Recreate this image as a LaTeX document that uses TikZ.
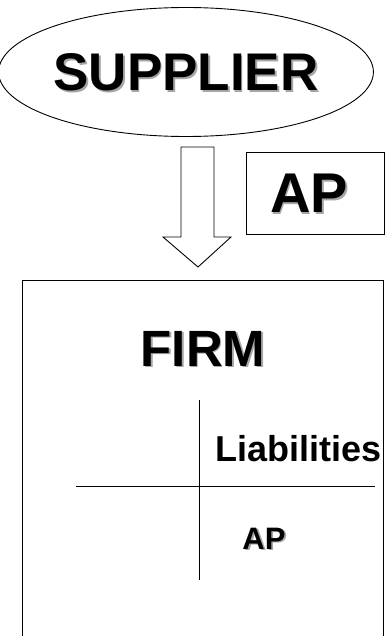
\documentclass[tikz,border=0pt]{standalone}
\usepackage{fontspec}
\setmainfont{Liberation Sans}
\usetikzlibrary{shapes.geometric, positioning}
\newcommand{\shadowed}[1]{\makebox[0pt][l]{\hspace{1.8pt}\smash{\raisebox{-1.8pt}{\textcolor{black!35}{#1}}}}#1}
\tikzset{
  big/.style={font=\fontsize{53}{53}\selectfont\bfseries, inner sep=0pt},
  small/.style={font=\fontsize{36}{36}\selectfont\bfseries, inner sep=0pt},
}

\begin{document}
\begin{tikzpicture}[x=1pt, y=-1pt, line width=0.9pt]
\useasboundingbox (0,0) rectangle (385,636);
\node[ellipse, draw, big, minimum width=360pt, minimum height=129pt] (supplier) at (186,72) {\shadowed{SUPPLIER}};
\node[draw, big, font=\fontsize{56}{56}\selectfont\bfseries, minimum width=138pt, minimum height=82pt] (ap) at (315,193) {\hspace{-12pt}\shadowed{AP}};
% arrow from supplier to firm
\draw (181,147) -- (214,147) -- (214,237) -- (231,237) -- (198,267) -- (163,237) -- (181,237) -- cycle;
% firm
\draw (22,280) rectangle (383,660);
\node[big, font=\fontsize{51}{51}\selectfont\bfseries, anchor=base] (firm) at (203,366) {\shadowed{FIRM}};
\coordinate (ttop) at (199,400);
\coordinate (tbot) at (199,580);
\coordinate (tleft) at (76,486);
\coordinate (tright) at (375,486);
\draw (ttop) -- (tbot);
\draw (tleft) -- (tright);
\node[small, anchor=base west] (liab) at (215,461) {Liabilities};
\node[small, font=\fontsize{31}{31}\selectfont\bfseries, anchor=base west] (apfirm) at (242,549) {\shadowed{AP}};
\end{tikzpicture}
\end{document}
